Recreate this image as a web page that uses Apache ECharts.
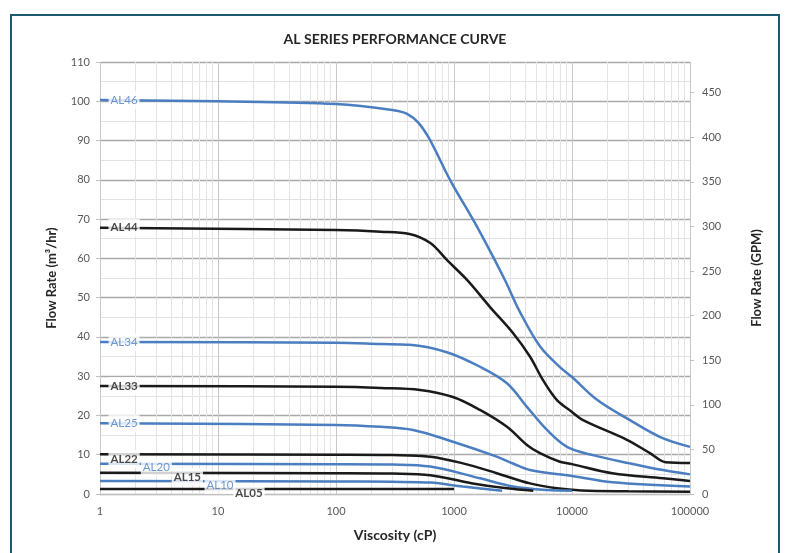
<!DOCTYPE html>
<html>
<head>
<meta charset="utf-8">
<script src="https://cdn.jsdelivr.net/npm/echarts@6/dist/echarts.min.js"></script>
<style>
html,body{margin:0;padding:0;background:#fff;}
#c{width:790px;height:553px;}
</style>
</head>
<body>
<div id="c"></div>
<script>
// ---- data (viscosity cP, flow m3/hr) ----
const seriesNames = ['AL46','AL44','AL34','AL33','AL25','AL22','AL20','AL15','AL10','AL05'];
const seriesColors = ['#4a7ec0','#1a1a1a','#4a7ec0','#1a1a1a','#4a7ec0','#1a1a1a','#4a7ec0','#1a1a1a','#4a7ec0','#1a1a1a'];

const viscAL46 = [1, 10, 100, 300, 400, 500, 630, 925, 1570, 2700, 3600, 5350, 7900, 10000, 16300, 31000, 56000, 100000];
const flowAL46 = [100.3, 100, 99.3, 97.8, 96.8, 94.5, 90, 80, 68, 54.5, 46.5, 37.6, 32.3, 29.8, 24, 18.8, 14.5, 12];

const viscAL44 = [1, 100, 240, 420, 630, 870, 1290, 2020, 3160, 4400, 5680, 7460, 10000, 12400, 29200, 45800, 62000, 100000];
const flowAL44 = [67.8, 67.2, 66.8, 66.2, 63.9, 59.6, 54.5, 47.6, 41, 35, 29, 23.9, 20.9, 18.8, 13.8, 10.4, 8.1, 7.9];

const viscAL34 = [1, 100, 240, 420, 870, 1660, 2810, 4150, 6140, 9070, 15000, 31000, 59000, 100000];
const flowAL34 = [38.7, 38.5, 38.2, 38.0, 36.1, 32.4, 28.2, 22.2, 16.3, 12, 9.9, 7.8, 6.1, 5.0];

const viscAL33 = [1, 100, 240, 515, 980, 1660, 2810, 4150, 5355, 7900, 10000, 22000, 59000, 100000];
const flowAL33 = [27.5, 27.3, 27, 26.5, 24.7, 21.4, 17.1, 12.5, 10.4, 8.2, 7.6, 5.3, 4.0, 3.3];

const viscAL25 = [1, 100, 240, 450, 980, 2300, 3200, 4400, 10000, 22000, 100000];
const flowAL25 = [18, 17.6, 17.1, 16.3, 13.3, 9.5, 7.7, 6.1, 4.6, 3.0, 1.9];

const viscAL22 = [1, 100, 300, 630, 1190, 2300, 4400, 7460, 12000, 30000, 100000];
const flowAL22 = [10.1, 10.0, 9.9, 9.5, 7.8, 5.3, 2.7, 1.45, 0.9, 0.7, 0.6];

const viscAL20 = [1, 100, 300, 630, 1660, 3160, 6140, 10000];
const flowAL20 = [7.7, 7.6, 7.5, 7.0, 4.0, 1.9, 1.0, 0.85];

const viscAL15 = [1, 100, 300, 630, 1440, 2810, 4700];
const flowAL15 = [5.4, 5.3, 5.2, 4.8, 2.7, 1.45, 0.85];

const viscAL10 = [1, 100, 300, 630, 1190, 2560];
const flowAL10 = [3.3, 3.2, 3.1, 2.9, 1.9, 0.85];

const viscAL05 = [1, 1000];
const flowAL05 = [1.3, 1.3];

// series label anchor positions (data space)
const labelX = [1.6, 1.6, 1.6, 1.6, 1.6, 1.6, 3.0, 5.5, 10.4, 18.3];
const labelY = [100.3, 67.8, 38.7, 27.5, 18, 8.9, 6.9, 4.3, 2.3, 0.3];

// axis ticks
const xTicks = [1, 10, 100, 1000, 10000, 100000];
const leftMax = 110, leftInterval = 10;
const gpmPerM3h = 4.40287;
const rightInterval = 50;

// ---- build ----
const viscList = [viscAL46, viscAL44, viscAL34, viscAL33, viscAL25, viscAL22, viscAL20, viscAL15, viscAL10, viscAL05];
const flowList = [flowAL46, flowAL44, flowAL34, flowAL33, flowAL25, flowAL22, flowAL20, flowAL15, flowAL10, flowAL05];

const minorX = [];
for (let d = 0; d < xTicks.length - 1; d++) {
  for (let k = 2; k <= 9; k++) minorX.push(k * xTicks[d]);
}

const FONT = 'Lato, "Open Sans", sans-serif';

const series = seriesNames.map((n, i) => ({
  name: n,
  type: 'line',
  z: 3,
  smooth: 0.35,
  showSymbol: false,
  symbol: 'none',
  lineStyle: { color: seriesColors[i], width: 2.5 },
  data: viscList[i].map((v, j) => [v, flowList[i][j]])
}));

series.push({
  name: 'minorGrid',
  type: 'line',
  z: 1,
  data: [],
  markLine: {
    z: 1,
    silent: true,
    animation: false,
    symbol: ['none', 'none'],
    label: { show: false },
    lineStyle: { color: '#e4e4e4', width: 1, type: 'solid' },
    emphasis: { disabled: true },
    data: minorX.map(v => ({ xAxis: v }))
  }
});

series.push({
  name: 'labels',
  type: 'scatter',
  z: 6,
  symbolSize: 0,
  silent: true,
  data: seriesNames.map((n, i) => ({
    name: n,
    value: [labelX[i], labelY[i]],
    label: {
      show: true,
      position: 'inside',
      formatter: n,
      color: seriesColors[i],
      fontWeight: i % 2 === 1 ? 'bold' : 'normal',
      fontSize: 11.5,
      fontFamily: FONT,
      backgroundColor: '#ffffff',
      padding: [3, 2]
    }
  }))
});

const option = {
  animation: false,
  backgroundColor: '#ffffff',
  title: {
    text: 'AL SERIES PERFORMANCE CURVE',
    left: 'center',
    top: 27,
    textStyle: { fontFamily: FONT, fontSize: 14, fontWeight: 'bold', color: '#262626' }
  },
  graphic: [{
    type: 'rect',
    shape: { x: 11, y: 15, width: 768, height: 560 },
    style: { fill: 'none', stroke: '#1d5b6f', lineWidth: 2 },
    silent: true,
    z: 100
  }],
  grid: { left: 100, right: 100, top: 62, bottom: 59 },
  xAxis: {
    type: 'log',
    logBase: 10,
    min: xTicks[0],
    max: xTicks[xTicks.length - 1],
    name: 'Viscosity (cP)',
    nameLocation: 'middle',
    nameGap: 34,
    nameTextStyle: { fontFamily: FONT, fontSize: 14, fontWeight: 'bold', color: '#262626' },
    axisLine: { show: true, lineStyle: { color: '#bfbfbf', width: 1 } },
    axisTick: { show: false },
    axisLabel: {
      margin: 12, fontFamily: FONT, fontSize: 11, color: '#595959',
      formatter: v => String(Math.round(v))
    },
    splitLine: { show: true, lineStyle: { color: '#c8c8c8', width: 1 } }
  },
  yAxis: [{
    type: 'value',
    min: 0,
    max: leftMax,
    interval: leftInterval,
    position: 'left',
    name: 'Flow Rate (m³/hr)',
    nameLocation: 'middle',
    nameGap: 42,
    nameTextStyle: { fontFamily: FONT, fontSize: 13, fontWeight: 'bold', color: '#262626' },
    axisLine: { show: false },
    axisTick: { show: true, length: 4, lineStyle: { color: '#bfbfbf' } },
    axisLabel: { margin: 10, fontFamily: FONT, fontSize: 11, color: '#595959' },
    splitLine: { show: true, lineStyle: { color: '#a9a9a9', width: 1.3 } },
    minorTick: { show: false, splitNumber: 2 },
    minorSplitLine: { show: true, lineStyle: { color: '#e2e2e2', width: 1 } }
  }, {
    type: 'value',
    min: 0,
    max: leftMax * gpmPerM3h,
    interval: rightInterval,
    position: 'right',
    name: 'Flow Rate (GPM)',
    nameLocation: 'middle',
    nameGap: 60,
    nameRotate: 90,
    nameTextStyle: { fontFamily: FONT, fontSize: 13, fontWeight: 'bold', color: '#262626' },
    axisLine: { show: false },
    axisTick: { show: true, length: 4, lineStyle: { color: '#bfbfbf' } },
    axisLabel: {
      margin: 12, fontFamily: FONT, fontSize: 11, color: '#595959',
      showMaxLabel: false,
      formatter: v => (Math.abs(v % rightInterval) < 1e-6 ? String(v) : '')
    },
    splitLine: { show: false }
  }],
  series: series
};

const chart = echarts.init(document.getElementById('c'), null, { renderer: 'canvas' });
chart.setOption(option);
</script>
</body>
</html>
